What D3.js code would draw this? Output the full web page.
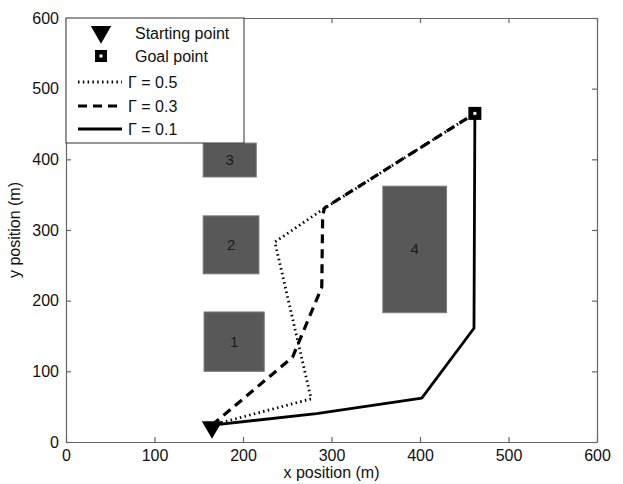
<!DOCTYPE html>
<html>
<head>
<meta charset="utf-8">
<script src="https://cdn.jsdelivr.net/npm/d3@7"></script>
<style>
  body { margin: 0; background: #fff; }
  text { font-family: "Liberation Sans", Arial, sans-serif; }
</style>
</head>
<body>
<svg id="chart"></svg>
<script>
// obstacles (x from-to, y from-to, in metres)
let obstacleIds = ['1', '2', '3', '4'];
let obstacleX0 = [156, 155, 155, 358];
let obstacleX1 = [224, 218, 215, 430];
let obstacleY0 = [100, 238, 375, 183];
let obstacleY1 = [184, 320, 423, 362];

let startPoint = [165, 24];
let goalPoint = [462, 465];

// paths for each gamma
let gammaLabels = ['\u0393 = 0.5', '\u0393 = 0.3', '\u0393 = 0.1'];
let path05 = [[165, 24], [277, 61], [236, 283], [290, 329], [462, 465]];
let path03 = [[165, 24], [256, 120], [289, 219], [290, 320], [292, 331], [462, 465]];
let path01 = [[165, 24], [283, 40], [402, 62], [461, 161], [462, 465]];

let xTicks = [0, 100, 200, 300, 400, 500, 600];
let yTicks = [0, 100, 200, 300, 400, 500, 600];

window.onload = function () {
  let w = 623, h = 484;
  let left = 66, right = 597, top = 18, bottom = 442;

  let chart = d3.select('#chart')
    .attr('width', w)
    .attr('height', h);

  let xScale = d3.scaleLinear().domain([0, 600]).range([left, right]);
  let yScale = d3.scaleLinear().domain([0, 600]).range([bottom, top]);

  // obstacles
  let obs = obstacleIds.map((id, i) => ({
    id: id, x0: obstacleX0[i], x1: obstacleX1[i], y0: obstacleY0[i], y1: obstacleY1[i]
  }));

  chart.selectAll('rect.obs')
    .data(obs)
    .enter()
    .append('rect')
    .attr('class', 'obs')
    .attr('x', (d) => xScale(d.x0))
    .attr('y', (d) => yScale(d.y1))
    .attr('width', (d) => xScale(d.x1) - xScale(d.x0))
    .attr('height', (d) => yScale(d.y0) - yScale(d.y1))
    .attr('fill', '#585858')
    .attr('stroke', '#7a7a7a')
    .attr('stroke-width', 1);

  chart.selectAll('text.obs')
    .data(obs)
    .enter()
    .append('text')
    .attr('class', 'obs')
    .attr('x', (d) => xScale((d.x0 + d.x1) / 2))
    .attr('y', (d) => yScale((d.y0 + d.y1) / 2) + 5)
    .attr('text-anchor', 'middle')
    .attr('font-size', 15)
    .attr('fill', '#1a1a1a')
    .text((d) => d.id);

  // AXES
  let xAxis = chart.append('g')
    .attr('transform', `translate(0, ${bottom})`)
    .call(d3.axisBottom(xScale).tickValues(xTicks).tickSizeInner(-5).tickSizeOuter(0).tickPadding(8));
  let yAxis = chart.append('g')
    .attr('transform', `translate(${left}, 0)`)
    .call(d3.axisLeft(yScale).tickValues(yTicks).tickSizeInner(-5).tickSizeOuter(0).tickPadding(7));
  let xTop = chart.append('g')
    .attr('transform', `translate(0, ${top})`)
    .call(d3.axisTop(xScale).tickValues(xTicks).tickSizeInner(-5).tickSizeOuter(0).tickFormat(''));
  let yRight = chart.append('g')
    .attr('transform', `translate(${right}, 0)`)
    .call(d3.axisRight(yScale).tickValues(yTicks).tickSizeInner(-5).tickSizeOuter(0).tickFormat(''));

  [xAxis, yAxis, xTop, yRight].forEach((g) => {
    g.selectAll('path, line').attr('stroke', '#666').attr('stroke-width', 1.2);
    g.selectAll('text')
      .attr('font-size', 16)
      .attr('fill', '#111')
      .attr('font-family', '"Liberation Sans", Arial, sans-serif');
  });

  chart.append('text')
    .attr('x', (left + right) / 2)
    .attr('y', 478)
    .attr('text-anchor', 'middle')
    .attr('font-size', 16)
    .attr('fill', '#111')
    .text('x position (m)');

  chart.append('text')
    .attr('transform', `translate(20, ${(top + bottom) / 2}) rotate(-90)`)
    .attr('text-anchor', 'middle')
    .attr('font-size', 16)
    .attr('fill', '#111')
    .text('y position (m)');

  // PATHS
  let line = d3.line().x((d) => xScale(d[0])).y((d) => yScale(d[1]));
  let styles = [
    { data: path05, width: 2.8, dash: '1.5,3.3' },
    { data: path03, width: 3.2, dash: '9,6' },
    { data: path01, width: 2.8, dash: null }
  ];

  chart.selectAll('path.route')
    .data(styles)
    .enter()
    .append('path')
    .attr('class', 'route')
    .attr('d', (d) => line(d.data))
    .attr('fill', 'none')
    .attr('stroke', '#000')
    .attr('stroke-width', (d) => d.width)
    .attr('stroke-dasharray', (d) => d.dash)
    .attr('stroke-linejoin', 'round');

  // markers
  let tri = d3.symbol().type(d3.symbolTriangle).size(180);
  chart.append('path')
    .attr('d', tri())
    .attr('transform', `translate(${xScale(startPoint[0])}, ${yScale(startPoint[1]) + 2}) rotate(180)`)
    .attr('fill', '#000');

  chart.append('rect')
    .attr('x', xScale(goalPoint[0]) - 6.5)
    .attr('y', yScale(goalPoint[1]) - 6.5)
    .attr('width', 13)
    .attr('height', 13)
    .attr('fill', '#000');
  chart.append('rect')
    .attr('x', xScale(goalPoint[0]) - 1.5)
    .attr('y', yScale(goalPoint[1]) - 1.5)
    .attr('width', 3)
    .attr('height', 3)
    .attr('fill', '#fff');

  // LEGEND
  let lg = chart.append('g');
  lg.append('rect')
    .attr('x', left)
    .attr('y', top)
    .attr('width', 178)
    .attr('height', 125)
    .attr('fill', '#fff')
    .attr('stroke', '#333')
    .attr('stroke-width', 1);

  lg.append('path')
    .attr('d', tri())
    .attr('transform', 'translate(101, 32) rotate(180)')
    .attr('fill', '#000');
  lg.append('text').attr('x', 135).attr('y', 39).attr('font-size', 16).attr('fill', '#111').text('Starting point');

  lg.append('rect').attr('x', 95).attr('y', 50).attr('width', 12).attr('height', 12).attr('fill', '#000');
  lg.append('rect').attr('x', 99.5).attr('y', 54.5).attr('width', 3).attr('height', 3).attr('fill', '#fff');
  lg.append('text').attr('x', 135).attr('y', 62).attr('font-size', 16).attr('fill', '#111').text('Goal point');

  let legendY = [82, 106, 129];
  styles.forEach((s, i) => {
    lg.append('line')
      .attr('x1', 78).attr('x2', 122)
      .attr('y1', legendY[i]).attr('y2', legendY[i])
      .attr('stroke', '#000')
      .attr('stroke-width', s.width)
      .attr('stroke-dasharray', s.dash);
    lg.append('text')
      .attr('x', 128)
      .attr('y', legendY[i] + 6)
      .attr('font-size', 16)
      .attr('fill', '#111')
      .text(gammaLabels[i]);
  });
};
</script>
</body>
</html>
